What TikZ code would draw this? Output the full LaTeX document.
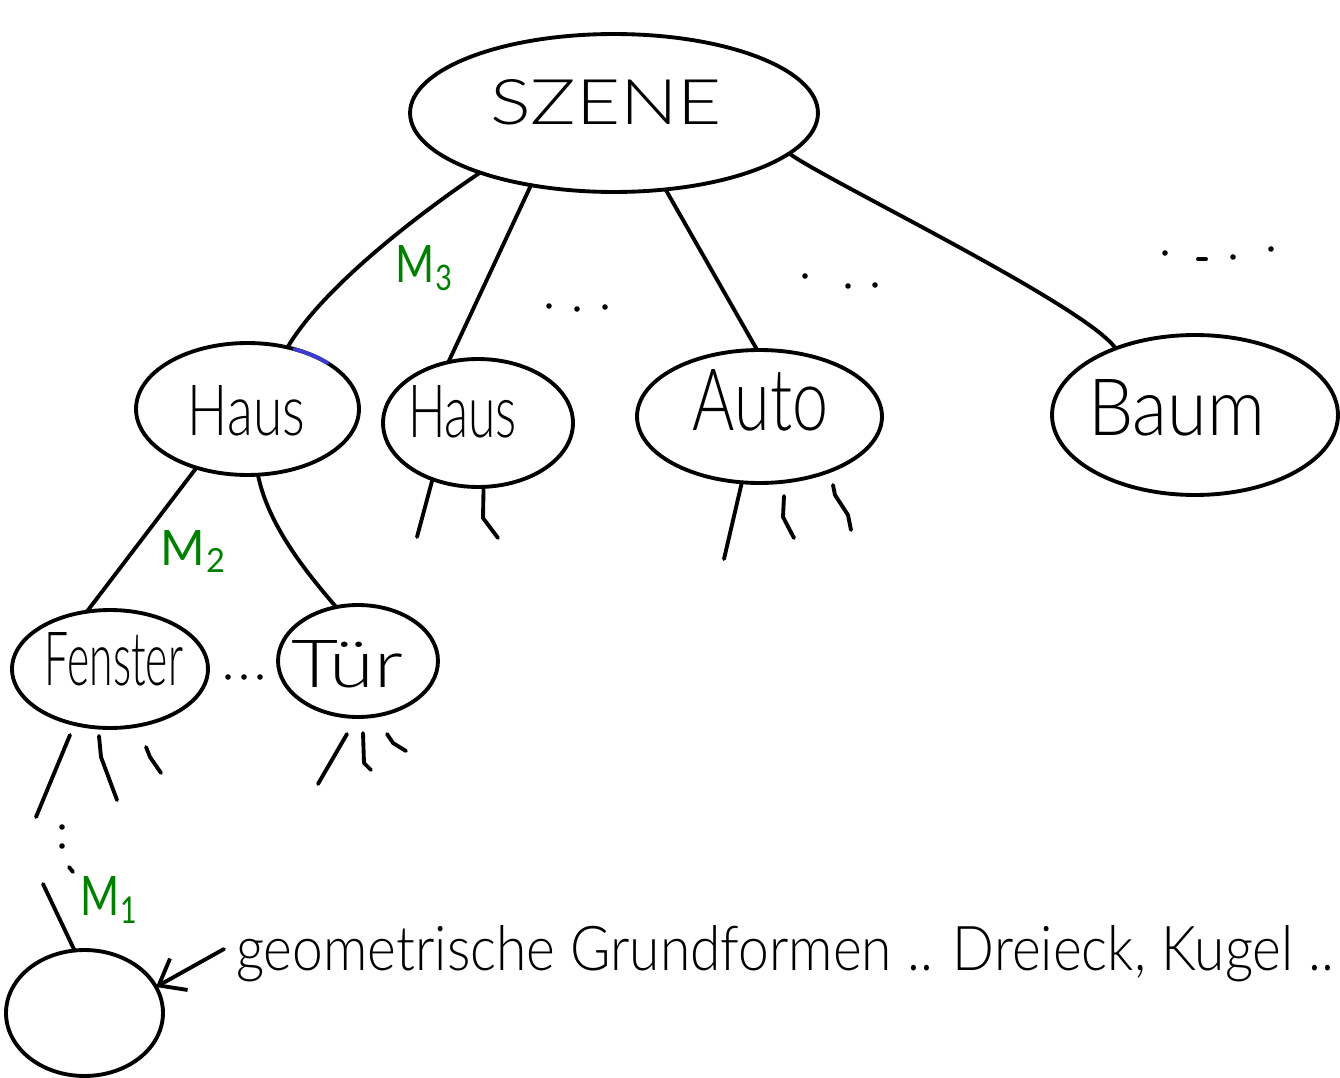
\documentclass[tikz,border=0pt]{standalone}
\usepackage{fontspec}
\newfontfamily\handfont{Lato}[UprightFont=* Light]
\newfontfamily\markfont{Lato}
\usetikzlibrary{shapes.geometric,arrows.meta}
\definecolor{mgreen}{RGB}{0,128,0}
\definecolor{hblue}{RGB}{60,60,210}
% text squeezed into a given width and cap height
\newcommand\fitbox[3]{\resizebox{#1}{#2}{#3}}
% letter with a small lowered index
\newcommand\msub[2]{#1\kern0.03em\raisebox{-0.16em}{\scalebox{0.68}{#2}}}

\begin{document}
\begin{tikzpicture}[x=0.02cm, y=-0.02cm,
  blob/.style={ellipse, draw, line width=2.2pt, inner sep=0pt, outer sep=0pt},
  lbl/.style={inner sep=0pt, outer sep=0pt, anchor=base, font=\handfont},
  mlbl/.style={lbl, font=\markfont, text=mgreen},
  link/.style={line width=2.2pt, line cap=round, line join=round}]
\useasboundingbox (0,0) rectangle (1340,1078);

% ---- scene graph nodes
\node[blob, minimum width=8.16cm, minimum height=3.16cm] (sz) at (614,113) {};
\node[blob, minimum width=4.46cm, minimum height=2.64cm] (h1) at (247.5,409) {};
\node[blob, minimum width=3.80cm, minimum height=2.56cm] (h2) at (478,423) {};
\node[blob, minimum width=4.90cm, minimum height=2.66cm] (au) at (759.5,416.5) {};
\node[blob, minimum width=5.72cm, minimum height=3.20cm] (bm) at (1195,415) {};
\node[blob, minimum width=3.92cm, minimum height=2.36cm] (fe) at (110,669) {};
\node[blob, minimum width=3.20cm, minimum height=2.24cm] (tu) at (358,661) {};
\node[blob, minimum width=3.14cm, minimum height=2.52cm] (ci) at (84.5,1013) {};

% ---- labels
\node[lbl] (szT) at (606,125)   {\fitbox{4.64cm}{0.90cm}{SZENE}};
\node[lbl] (h1T) at (246.5,435) {\fitbox{2.34cm}{1.00cm}{Haus}};
\node[lbl] (h2T) at (462.5,437) {\fitbox{2.18cm}{1.04cm}{Haus}};
\node[lbl] (auT) at (760.5,430) {\fitbox{2.70cm}{1.22cm}{Auto}};
\node[lbl] (bmT) at (1176.5,435){\fitbox{3.54cm}{1.12cm}{Baum}};
\node[lbl] (feT) at (114,685)   {\fitbox{2.76cm}{1.06cm}{Fenster}};
\node[lbl] (tuT) at (347.5,687) {\fitbox{2.22cm}{0.94cm}{Tür}};

\node[mlbl] (m3) at (423.5,282) {\fitbox{1.14cm}{0.74cm}{\msub{M}{3}}};
\node[mlbl] (m2) at (192.5,565) {\fitbox{1.30cm}{0.70cm}{\msub{M}{2}}};
\node[mlbl] (m1) at (108.5,915) {\fitbox{1.14cm}{0.78cm}{\msub{M}{1}}};

\node[lbl, anchor=base west] (geo) at (236,970)
  {\fitbox{21.96cm}{0.90cm}{geometrische Grundformen .. Dreieck, Kugel ..}};

% ---- free ends of connectors
\coordinate (h2a) at (417,537);
\coordinate (h2b) at (483,518);
\coordinate (h2c) at (498,538);
\coordinate (aua) at (724,559);
\coordinate (leafTop) at (43,884);
\coordinate (arrTail) at (224,949);

% ---- connectors
\draw[link] (sz.204) .. controls (420,213) and (323,287) .. (h1.57);
\draw[link] (sz.221) -- (h2.116);
\draw[link] (sz.304) -- (au.92);
\draw[link] (sz.347) .. controls (825,180) and (1085,305) .. (bm.140);
\draw[link] (h1.229) -- (fe.112);
\draw[link] (h1.279) .. controls (268,525) and (306,572) .. (tu.112);
\draw[link] (h2.231) -- (h2a);
\draw[link] (h2.275) -- (h2b) -- (h2c);
\draw[link] (au.255) -- (aua);
\draw[link] (leafTop) -- (ci.99);
\draw[link, -{Straight Barb[length=0.46cm, width=0.72cm, line width=2.2pt]}]
  (arrTail) -- (ci.20);

% blue stroke on the top of the first house
\draw[link, hblue] (h1.center) ++(-65.2:111.5 and 66)
  arc[start angle=-65.2, end angle=-44.3, x radius=111.5, y radius=66];

% ---- loose strokes below Auto, Fenster and Tür
\draw[link] (784,496) -- (783,517) -- (794,538);
\draw[link] (833,485) -- (835,495) -- (848,515) -- (851,530);
\draw[link] (70,735) -- (36,817);
\draw[link] (99,736) -- (101,757) -- (117,800);
\draw[link] (146,747) -- (150,757) -- (161,773);
\draw[link] (347,734) -- (318,784);
\draw[link] (363,733) -- (364,763) -- (371,770);
\draw[link] (387,734) -- (393,743) -- (406,751);

% ---- ellipsis dots
\foreach \p in {(549,306),(577,309),(605,307),
                (805,276),(848,286),(875,285),
                (1165,253),(1233,257),(1271,249),
                (228,677),(244,677),(260,677),
                (62,827),(62,846)}
  \fill \p circle[radius=2.8];
\draw[link] (1198,259) -- (1206,259);
\draw[link] (69,867) -- (73,872);
\end{tikzpicture}
\end{document}
